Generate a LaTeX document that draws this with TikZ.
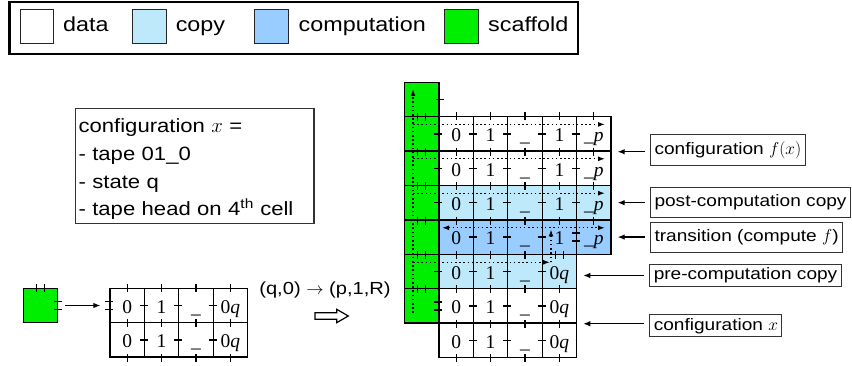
\documentclass[tikz,border=0pt]{standalone}
\usepackage{fontspec}
\newfontfamily\sansfam[FakeStretch=1.15]{Liberation Sans}
\newfontfamily\cellfam{Liberation Serif}
\usetikzlibrary{arrows.meta}
\definecolor{copyblue}{RGB}{189,233,251}
\definecolor{compblue}{RGB}{153,204,255}
\definecolor{scafgreen}{RGB}{0,238,0}
\newcommand\tkv[1]{\draw[tk] ([yshift=4pt]#1) -- ([yshift=-4pt]#1);}
\newcommand\tkh[1]{\draw[tk] ([xshift=-4pt]#1) -- ([xshift=4pt]#1);}
\newcommand\tkvv[1]{\draw[tk] ([xshift=-4pt,yshift=4pt]#1) -- ([xshift=-4pt,yshift=-4pt]#1) ([xshift=4pt,yshift=4pt]#1) -- ([xshift=4pt,yshift=-4pt]#1);}
\newcommand\tkhh[1]{\draw[tk] ([xshift=-4pt,yshift=4pt]#1) -- ([xshift=4pt,yshift=4pt]#1) ([xshift=-4pt,yshift=-4pt]#1) -- ([xshift=4pt,yshift=-4pt]#1);}
\begin{document}
\begin{tikzpicture}[x=1pt,y=-1pt,
  cell/.style={draw=black, line width=1.3pt, minimum size=34.4pt, inner sep=0pt, text height=15.6pt, text depth=0pt, font=\cellfam\fontsize{19.5}{19.5}\selectfont},
  tk/.style={line width=1.3pt},
  dots/.style={line width=1.3pt, dash pattern=on 1.5pt off 2.7pt, -{Latex[length=7pt,width=5pt]}},
  dotsb/.style={line width=1.3pt, dash pattern=on 1.5pt off 2.7pt, {Latex[length=7pt,width=5pt]}-{Latex[length=7pt,width=5pt]}},
  arr/.style={line width=1.2pt, -{Latex[length=7pt,width=5.5pt]}},
  lbl/.style={draw=black!80, line width=1pt, anchor=west, inner xsep=4pt, inner ysep=0pt, font=\sansfam\fontsize{16.6}{18}\selectfont},
  lsq/.style={draw=black!85, line width=1pt, minimum width=33.5pt, minimum height=34.3pt, inner sep=0pt},
  ltx/.style={anchor=base west, inner sep=0pt, font=\sansfam\fontsize{20.3}{22}\selectfont}]
\useasboundingbox (0,0) rectangle (852,366);

% legend
\node[draw=black, line width=2.6pt, minimum width=568.5pt, minimum height=52pt, inner sep=0pt] (legend) at (293.75,28) {};
\node[lsq, fill=white] (sqdata) at (37,26.2) {};
\node[ltx] (txdata) at (63,31.7) {data};
\node[lsq, fill=copyblue] (sqcopy) at (149.3,26.2) {};
\node[ltx] (txcopy) at (175.6,31.7) {copy};
\node[lsq, fill=compblue] (sqcomp) at (271.3,26.2) {};
\node[ltx] (txcomp) at (298.5,31.7) {computation};
\node[lsq, fill=scafgreen] (sqscaf) at (461.6,26.2) {};
\node[ltx] (txscaf) at (488,31.7) {scaffold};

% configuration box
\node[draw=black!80, line width=1.2pt, anchor=north west, minimum width=238.3pt, minimum height=115.6pt, text width=232.3pt, inner xsep=3pt, inner ysep=0pt, align=left, font=\sansfam\fontsize{19.2}{27.7}\selectfont] (conf) at (75,107.7)
  {\rule{0pt}{20.5pt}configuration $x$ =\\- tape 01\_0\\- state q\\- tape head on 4\textsuperscript{th} cell};

% scaffold column
\foreach \rr in {0,...,6}
  \node[cell, fill=scafgreen] (g-\rr) at (421.8,{116.7+(\rr-0.5)*34.4}) {};

% main grid
\foreach \rr/\ff in {1/white,2/white,3/copyblue,4/compblue}
  \foreach \cc/\tx in {1/{0},2/{1},3/{\_},4/{1},5/{\_\textit{p}}}
    \node[cell, fill=\ff] (m-\rr-\cc) at ({439+(\cc-0.5)*34.4},{116.7+(\rr-0.5)*34.4}) {\tx};
\foreach \rr/\ff in {5/copyblue,6/white,7/white}
  \foreach \cc/\tx in {1/{0},2/{1},3/{\_},4/{0\textit{q}}}
    \node[cell, fill=\ff] (m-\rr-\cc) at ({439+(\cc-0.5)*34.4},{116.7+(\rr-0.5)*34.4}) {\tx};

% ticks main grid
\foreach \cc in {1,...,5} {\tkv{m-1-\cc.north}}
\foreach \rr in {1,2,3} {\foreach \cc in {1,...,5} {\tkv{m-\rr-\cc.south} \tkh{m-\rr-\cc.west}}}
\foreach \cc in {1,2,3} {\tkv{m-4-\cc.south}}
\tkvv{m-4-4.south}
\foreach \cc in {2,3,4} {\tkh{m-4-\cc.west}}
\tkhh{m-4-5.west}
\foreach \rr in {5,6,7} {\foreach \cc in {1,...,4} {\tkv{m-\rr-\cc.south}}}
\foreach \cc in {1,...,4} {\tkh{m-5-\cc.west}}
\tkhh{m-6-1.west}
\foreach \cc in {2,3,4} {\tkh{m-6-\cc.west} \tkh{m-7-\cc.west}}
\foreach \rr in {0,...,5} {\tkvv{g-\rr.south}}
\tkh{g-0.east}

% dotted growth paths
\coordinate (vb) at (413,313);
\coordinate (vt) at (413,89);
\draw[dots] (vb) -- (vt);
\foreach \rr in {1,2,3} {
  \coordinate (hs\rr) at (413,{116.7+(\rr-1)*34.4+7.7});
  \coordinate (he\rr) at (605,{116.7+(\rr-1)*34.4+7.7});
  \draw[dots] (hs\rr) -- (he\rr);
}
\coordinate (hs5) at (413,262.3);
\coordinate (he5) at (550,262.3);
\draw[dots] (hs5) -- (he5);
\coordinate (us) at (551,262.3);
\coordinate (ue) at (551,229.5);
\draw[dots] (us) -- (ue);
\coordinate (ts) at (442,227.8);
\coordinate (te) at (605,227.8);
\draw[dotsb] (ts) -- (te);

% labels
\coordinate (a1) at ([xshift=6pt]m-1-5.south east);
\coordinate (a2) at ([xshift=6pt]m-3-5.east);
\coordinate (a3) at ([xshift=6pt]m-4-5.east);
\coordinate (a4) at ([xshift=6pt,yshift=-4pt]m-5-4.east);
\coordinate (a5) at ([xshift=6pt]m-6-4.south east);
\node[lbl, minimum height=30.5pt] (l1) at ([xshift=32.35pt,yshift=1.5pt]a1) {configuration $f(x)$};
\node[lbl, minimum height=29.5pt] (l2) at ([xshift=32.35pt]a2) {post-computation copy};
\node[lbl, minimum height=30pt] (l3) at ([xshift=32.35pt]a3) {transition (compute $f$)};
\node[lbl, minimum height=21.5pt] (l4) at ([xshift=66pt]a4) {pre-computation copy};
\node[lbl, minimum height=21.5pt] (l5) at ([xshift=66pt,yshift=-2pt]a5) {configuration $x$};
\foreach \k in {1,...,5} {\draw[arr] ([xshift=-5pt]l\k.west |- a\k) -- (a\k);}

% small example at bottom left
\node[cell, fill=scafgreen] (ss) at (40.5,305.5) {};
\foreach \rr in {1,2}
  \foreach \cc/\tx in {1/{0},2/{1},3/{\_},4/{0\textit{q}}}
    \node[cell, fill=white] (s-\rr-\cc) at ({110+(\cc-0.5)*34.4},{288.3+(\rr-0.5)*34.4}) {\tx};
\foreach \cc in {1,...,4} {\tkv{s-1-\cc.north} \tkv{s-1-\cc.south} \tkv{s-2-\cc.south}}
\tkhh{s-1-1.west}
\foreach \cc in {2,3,4} {\tkh{s-1-\cc.west} \tkh{s-2-\cc.west}}
\tkvv{ss.north}
\tkhh{ss.east}
\draw[arr] ([xshift=7pt]ss.east) -- ([xshift=-9pt]s-1-1.west);

% transition rule and hollow arrow
\node[inner sep=0pt, font=\sansfam\fontsize{17.5}{20}\selectfont] (rule) at (325,290) {(q,0) $\rightarrow$ (p,1,R)};
\draw[line width=1.2pt, line join=miter] (315,312.7) -- (336.7,312.7) -- (336.7,309.3) -- (348.3,316) -- (336.7,322.7) -- (336.7,319.3) -- (315,319.3) -- cycle;
\end{tikzpicture}
\end{document}
